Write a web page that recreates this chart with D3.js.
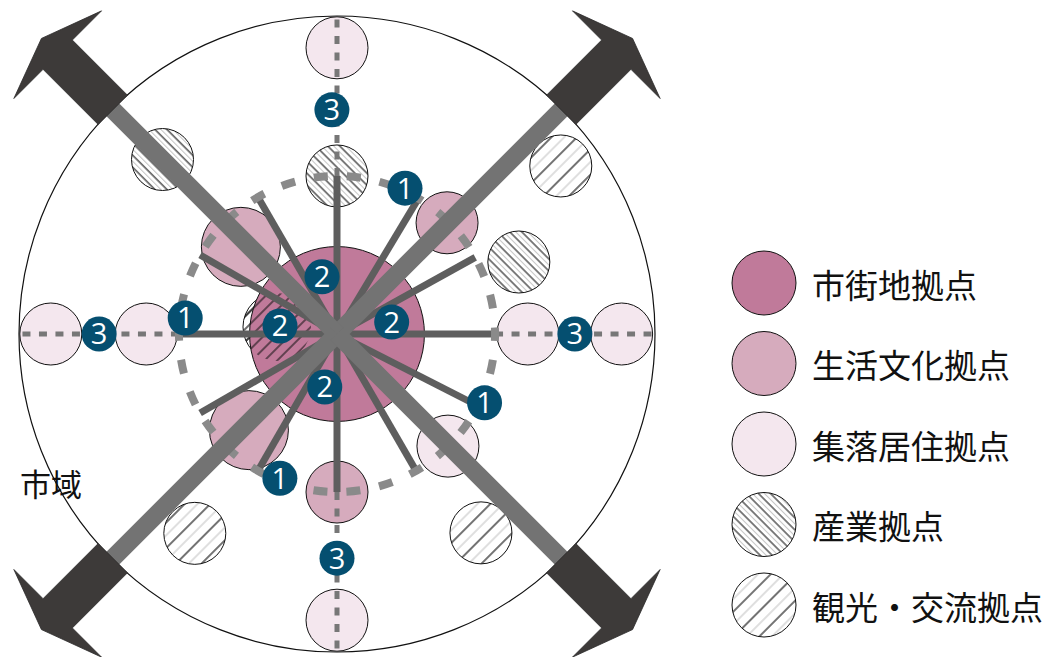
<!DOCTYPE html>
<html><head><meta charset="utf-8">
<script src="https://cdn.jsdelivr.net/npm/d3@7"></script>
<style>html,body{margin:0;padding:0;background:#fff}svg{display:block}</style>
</head><body>
<svg id="chart" width="1050" height="657"></svg>
<script>
// ---- data (polar: angle in degrees, distance as fraction of the city-area radius) ----
const nodeTypes = ["市街地拠点", "生活文化拠点", "集落居住拠点", "産業拠点", "観光・交流拠点"];
const typeFill = ["#c07a9a", "#d6abbd", "#f4e7ee", "url(#hatchInd)", "url(#hatchTour)"];
// nodes: [type index, angle, distance, large?]
const nodes = [
  [2, 90, 0.90, 0], [3, 90, 0.497, 0],
  [2, 180, 0.90, 0], [2, 180, 0.60, 0],
  [2, 0, 0.60, 0], [2, 0, 0.895, 0],
  [1, 270, 0.497, 0], [2, 270, 0.90, 0],
  [3, 135, 0.776, 0], [4, 36.9, 0.88, 0], [3, 21.6, 0.615, 0],
  [4, 234.5, 0.77, 0], [4, 305.9, 0.772, 0],
  [1, 45.3, 0.492, 0], [1, 137.8, 0.408, 1], [1, 227.5, 0.41, 1],
  [2, 314.7, 0.496, 0]
];
const hiddenNode = [4, 173.3, 0.19];
const cityRadius = 0.275;
const spokeAngles = [0, 29, 59, 90, 120, 150, 180, 210, 240, 270, 300, 333];
const spokeLength = 0.497;
const roadAngles = [45, 135, 225, 315];
const dottedAngles = [0, 90, 180, 270];
const ringRadius = 0.497;
// route labels: [number, angle, distance]
const labels = [
  ["1", 65, 0.506], ["1", 174, 0.48], ["1", 335, 0.512], ["1", 248.4, 0.488],
  ["2", 104.7, 0.186], ["2", 12.3, 0.176], ["2", 172, 0.181], ["2", 257, 0.171],
  ["3", 91.3, 0.705], ["3", 180, 0.748], ["3", 0, 0.748], ["3", 270, 0.705]
];
const areaLabel = "市域";

// ---- drawing ----
const svg = d3.select("#chart");
const cx = 337, cy = 334, R = 318;
const rs = d3.scaleLinear().domain([0, 1]).range([0, R]);
const rad = a => a * Math.PI / 180;
const px = (a, d) => cx + rs(d) * Math.cos(rad(a));
const py = (a, d) => cy - rs(d) * Math.sin(rad(a));
const nodeR = 31, nodeRL = 39.5, labelR = 17.5;

const defs = svg.append("defs");
function hatch(id, size, angle, withBg, black, gray, bw) {
  const p = defs.append("pattern").attr("id", id).attr("patternUnits", "userSpaceOnUse")
    .attr("width", size).attr("height", size).attr("patternTransform", `rotate(${angle})`);
  if (withBg) p.append("rect").attr("width", size).attr("height", size).attr("fill", "#fff");
  p.append("line").attr("x1", 1).attr("x2", 1).attr("y1", -1).attr("y2", size + 1).attr("stroke", black).attr("stroke-width", bw);
  if (gray) p.append("line").attr("x1", 1 + size / 2).attr("x2", 1 + size / 2).attr("y1", -1).attr("y2", size + 1).attr("stroke", gray).attr("stroke-width", 1);
}
hatch("hatchInd", 8.5, -45, true, "#000", "#c4c4c4", 1.0);
hatch("hatchTour", 18, 45, true, "#000", "#c0c0c0", 1.1);
hatch("hatchTourClear", 9, 45, false, "#111", null, 1.1);

// outer city area
svg.append("circle").attr("cx", cx).attr("cy", cy).attr("r", rs(1))
  .attr("fill", "#fff").attr("stroke", "#111").attr("stroke-width", 1.2);

// hidden node under the city circle
svg.append("circle").attr("cx", px(hiddenNode[1], hiddenNode[2])).attr("cy", py(hiddenNode[1], hiddenNode[2]))
  .attr("r", 34).attr("fill", typeFill[hiddenNode[0]]).attr("stroke", "#111").attr("stroke-width", 1);

// nodes
svg.append("g").selectAll("circle").data(nodes).join("circle")
  .attr("cx", d => px(d[1], d[2])).attr("cy", d => py(d[1], d[2]))
  .attr("r", d => d[3] ? nodeRL : nodeR)
  .attr("fill", d => typeFill[d[0]]).attr("stroke", "#111").attr("stroke-width", 1);

// city centre
svg.append("circle").attr("cx", cx).attr("cy", cy).attr("r", rs(cityRadius))
  .attr("fill", typeFill[0]).attr("stroke", "#111").attr("stroke-width", 1);
svg.append("circle").attr("cx", px(hiddenNode[1], hiddenNode[2])).attr("cy", py(hiddenNode[1], hiddenNode[2]))
  .attr("r", 34).attr("fill", "url(#hatchTourClear)").attr("stroke", "none");

// dotted cardinal lines
svg.append("g").selectAll("line").data(dottedAngles).join("line")
  .attr("x1", a => px(a, ringRadius)).attr("y1", a => py(a, ringRadius))
  .attr("x2", a => px(a, 1)).attr("y2", a => py(a, 1))
  .attr("stroke", "#777").attr("stroke-width", 5).attr("stroke-dasharray", "8 8.5");

// spokes
svg.append("g").selectAll("line").data(spokeAngles).join("line")
  .attr("x1", cx).attr("y1", cy)
  .attr("x2", a => px(a, spokeLength)).attr("y2", a => py(a, spokeLength))
  .attr("stroke", "#5e5e5e").attr("stroke-width", 7);

// dashed ring
const circ = 2 * Math.PI * rs(ringRadius), nd = 30, per = circ / nd;
svg.append("circle").attr("cx", cx).attr("cy", cy).attr("r", rs(ringRadius))
  .attr("fill", "none").attr("stroke", "#8a8a8a").attr("stroke-width", 8)
  .attr("stroke-dasharray", `14 ${per - 14}`).attr("stroke-dashoffset", 7);

// main roads
svg.append("g").selectAll("line").data(roadAngles).join("line")
  .attr("x1", cx).attr("y1", cy)
  .attr("x2", a => px(a, 1)).attr("y2", a => py(a, 1))
  .attr("stroke", "#737373").attr("stroke-width", 18);

// arrows
const r0 = rs(1) - 1;
const arrowPts = [[r0, -20.7], [r0 + 78, -20.7], [r0 + 78, -62], [r0 + 101, 0], [r0 + 78, 62], [r0 + 78, 20.7], [r0, 20.7]];
svg.append("g").selectAll("path").data(roadAngles).join("path")
  .attr("d", a => {
    const t = rad(a), ux = Math.cos(t), uy = -Math.sin(t), vx = Math.sin(t), vy = Math.cos(t);
    return "M" + arrowPts.map(([u, v]) => [cx + u * ux + v * vx, cy + u * uy + v * vy].join(",")).join("L") + "Z";
  })
  .attr("fill", "#3d3a39").attr("stroke", "#2a2828").attr("stroke-width", 0.8);

// number labels
const lg = svg.append("g").selectAll("g").data(labels).join("g")
  .attr("transform", d => `translate(${px(d[1], d[2])},${py(d[1], d[2])})`);
lg.append("circle").attr("r", labelR).attr("fill", "#054f70");
lg.append("text").text(d => d[0]).attr("text-anchor", "middle").attr("dy", "0.36em")
  .attr("fill", "#fff").attr("font-family", "Open Sans, Noto Sans, sans-serif").attr("font-size", 29);

// area label
svg.append("text").text(areaLabel).attr("x", 20).attr("y", 496)
  .attr("font-family", "Noto Sans CJK JP, sans-serif").attr("font-size", 31).attr("fill", "#111");

// legend
const ly = d3.scaleLinear().domain([0, nodeTypes.length - 1]).range([283, 605]);
const leg = svg.append("g").selectAll("g").data(nodeTypes).join("g")
  .attr("transform", (d, i) => `translate(764,${ly(i)})`);
leg.append("circle").attr("r", 32).attr("fill", (d, i) => typeFill[i]).attr("stroke", "#111").attr("stroke-width", 1);
leg.append("text").text(d => d).attr("x", 48).attr("dy", "0.45em")
  .attr("font-family", "Noto Sans CJK JP, sans-serif").attr("font-size", 33).attr("fill", "#111");
</script>
</body></html>
